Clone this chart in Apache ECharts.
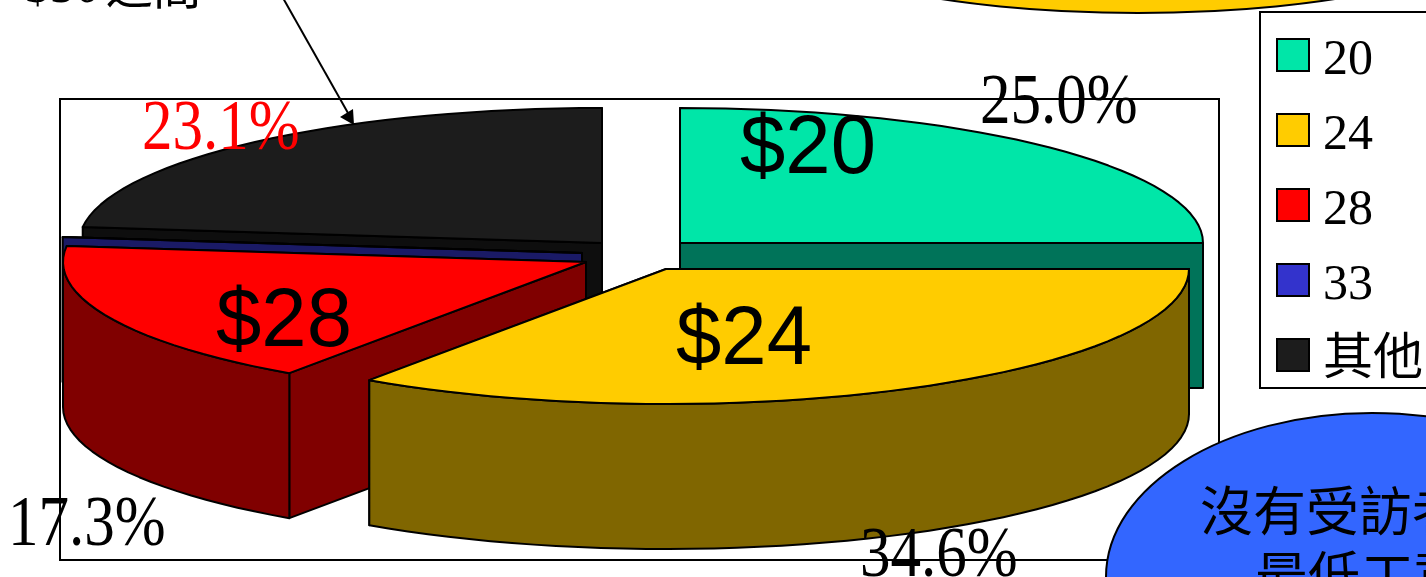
<!DOCTYPE html>
<html>
<head>
<meta charset="utf-8">
<title>pie</title>
<script src="https://cdn.jsdelivr.net/npm/echarts@6/dist/echarts.min.js"></script>
<style>
html, body { margin: 0; padding: 0; background: #fff; overflow: hidden; }
#chart { width: 1426px; height: 577px; }
</style>
</head>
<body>
<div id="chart"></div>
<script>
// percent of respondents per wage
const categories = ['20', '24', '28', '33', '其他']
const shares = [25.0, 34.6, 17.3, 0, 23.1]
const priceLabels = ['$20', '$24', '$28', '', '']
const topColors = ['#00E6A8', '#FFCC00', '#FF0000', '#3333CC', '#1C1C1C']
const sideColors = ['#007359', '#806600', '#800000', '#1A1A66', '#0E0E0E']
const percentColors = ['#000', '#000', '#000', '#000', '#F00']

// layout of the fake 3d pie
const rx = 523
const ry = 135
const depth = 145
const centers = [[680, 243], [666, 269], [586, 262], [582, 253], [602, 243]]
const percentPos = [[980, 69], [860, 522], [8, 491], null, [142, 95]]
const pricePos = [[740, 108], [676, 299], [216, 281], null, null]
const paintOrder = [1, 5, 3, 2, 1]

const serif = '"Liberation Serif", "Noto Sans CJK TC", serif'
const sans = '"Liberation Sans", sans-serif'
const cjk = '"Noto Sans CJK TC", sans-serif'

const rad = (deg) => deg * Math.PI / 180
const rimPoint = (c, deg, drop) => [
  c[0] + rx * Math.sin(rad(deg)),
  c[1] - ry * Math.cos(rad(deg)) + drop
]
const arcPoints = (c, from, to, drop) => {
  const points = []
  const steps = Math.max(1, Math.ceil((to - from) / 2.5))
  for (let i = 0; i <= steps; i++) {
    points.push(rimPoint(c, from + (to - from) * i / steps, drop))
  }
  return points
}
const slab = (points, fill) => ({
  type: 'polygon',
  shape: { points },
  style: { fill, stroke: '#000', lineWidth: 2, lineJoin: 'round' }
})
const cutFace = (c, deg, fill) => slab([
  [c[0], c[1]],
  rimPoint(c, deg, 0),
  rimPoint(c, deg, depth),
  [c[0], c[1] + depth]
], fill)

const startAngles = []
shares.reduce((sum, share, i) => {
  startAngles[i] = sum
  return sum + share * 3.6
}, 0)

const renderSlice = (index) => (params, api) => {
  const c = centers[index]
  const from = startAngles[index]
  const to = from + api.value(0) * 3.6
  const children = [
    cutFace(c, to, sideColors[index]),
    cutFace(c, from, sideColors[index])
  ]
  // only the part of the rim that faces the viewer
  const rimFrom = Math.max(from, 90)
  const rimTo = Math.min(to, 270)
  if (rimTo > rimFrom) {
    const upper = arcPoints(c, rimFrom, rimTo, 0)
    const lower = arcPoints(c, rimFrom, rimTo, depth).reverse()
    children.push(slab(upper.concat(lower), sideColors[index]))
  }
  children.push(slab([[c[0], c[1]]].concat(arcPoints(c, from, to, 0)), topColors[index]))
  if (pricePos[index]) {
    children.push({
      type: 'text',
      x: pricePos[index][0],
      y: pricePos[index][1],
      scaleX: 0.97,
      style: { text: priceLabels[index], fill: '#000', fontSize: 84, fontFamily: sans, align: 'left', verticalAlign: 'top' }
    })
  }
  if (percentPos[index]) {
    children.push({
      type: 'text',
      x: percentPos[index][0],
      y: percentPos[index][1],
      scaleX: 0.86,
      style: { text: api.value(0).toFixed(1) + '%', fill: percentColors[index], fontSize: 71, fontFamily: serif, align: 'left', verticalAlign: 'top' }
    })
  }
  return { type: 'group', children }
}

const chart = echarts.init(document.getElementById('chart'))
chart.setOption({
  animation: false,
  backgroundColor: '#fff',
  legend: {
    orient: 'vertical',
    left: 1260,
    top: 12,
    selectedMode: false,
    icon: 'rect',
    itemWidth: 32,
    itemHeight: 32,
    itemGap: 25,
    padding: [24, 120, 2, 16],
    borderColor: '#000',
    borderWidth: 2,
    backgroundColor: '#fff',
    itemStyle: { borderColor: '#000', borderWidth: 2 },
    formatter: (name) => `{t|${name}}`,
    textStyle: {
      color: '#000',
      rich: {
        t: { fontSize: 50, lineHeight: 62, verticalAlign: 'bottom', fontFamily: serif, color: '#000', padding: [0, 0, 0, 9] }
      }
    },
    data: categories
  },
  series: categories.map((name, i) => ({
    type: 'custom',
    name,
    coordinateSystem: 'none',
    z: 2 + paintOrder[i],
    silent: true,
    itemStyle: { color: topColors[i] },
    renderItem: renderSlice(i),
    data: [shares[i]]
  })),
  graphic: [
    {
      type: 'rect',
      z: 0,
      shape: { x: 60, y: 99, width: 1159, height: 461 },
      style: { fill: '#fff', stroke: '#000', lineWidth: 2 }
    },
    {
      type: 'ellipse',
      z: 20,
      shape: { cx: 1138, cy: -70, rx: 354, ry: 83 },
      style: { fill: '#FFCC00', stroke: '#000', lineWidth: 2 }
    },
    {
      type: 'ellipse',
      z: 20,
      shape: { cx: 1372, cy: 577, rx: 266, ry: 164 },
      style: { fill: '#3366FF', stroke: '#000', lineWidth: 2 }
    },
    {
      type: 'line',
      z: 20,
      shape: { x1: 283, y1: -2, x2: 348, y2: 113 },
      style: { stroke: '#000', lineWidth: 2 }
    },
    {
      type: 'polygon',
      z: 20,
      shape: { points: [[354, 125], [340, 117], [353, 109]] },
      style: { fill: '#000' }
    },
    {
      type: 'text',
      z: 21,
      x: -3,
      y: -44,
      scaleX: 0.83,
      style: { text: '<$30', fill: '#000', fontSize: 60, fontFamily: serif, align: 'left', verticalAlign: 'top' }
    },
    {
      type: 'text',
      z: 21,
      x: 105,
      y: -38,
      style: { text: '之間', fill: '#000', fontSize: 48, fontFamily: cjk, align: 'left', verticalAlign: 'top' }
    },
    {
      type: 'text',
      z: 21,
      x: 1200,
      y: 484,
      style: { text: '沒有受訪者', fill: '#000', fontSize: 53, fontFamily: cjk, align: 'left', verticalAlign: 'top' }
    },
    {
      type: 'text',
      z: 21,
      x: 1255,
      y: 549,
      style: { text: '最低工資', fill: '#000', fontSize: 53, fontFamily: cjk, align: 'left', verticalAlign: 'top' }
    }
  ]
})
</script>
</body>
</html>
